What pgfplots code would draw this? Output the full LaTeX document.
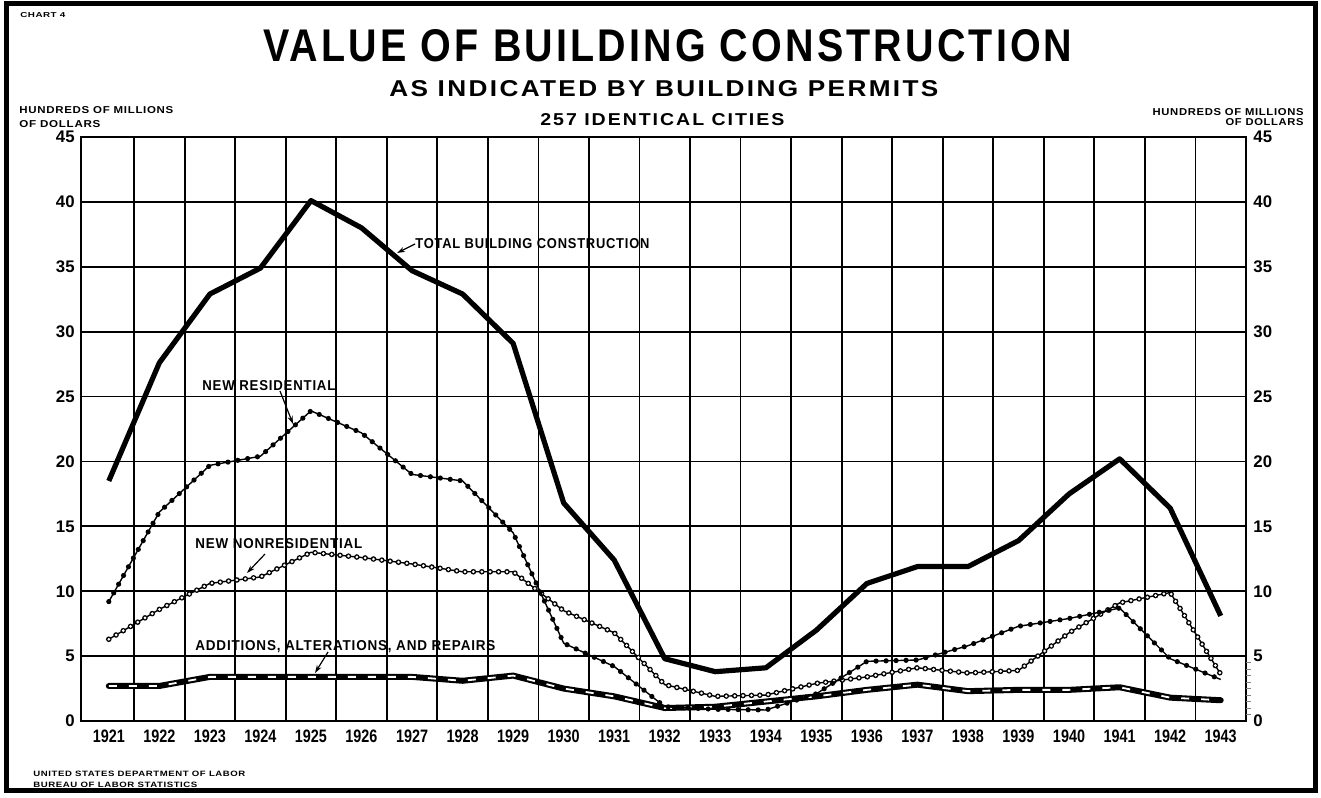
\documentclass[border=0pt]{standalone}
\usepackage{pgfplots}
\pgfplotsset{compat=1.18}
\usepackage{pgfplotstable}
\usepackage{fontspec}
\usepackage{graphicx}
\setmainfont{Liberation Sans}
\usetikzlibrary{arrows.meta}

\newcommand{\tx}[4]{\resizebox{#1pt}{#2pt}{\bfseries\addfontfeature{LetterSpace=#3}#4}}

\pgfplotstableread{
year total res nonres add
1921 18.5 9.2 6.3 2.7
1922 27.6 16.1 8.6 2.7
1923 32.9 19.7 10.6 3.4
1924 34.9 20.4 11.1 3.4
1925 40.1 23.9 13.0 3.4
1926 38.0 22.2 12.6 3.4
1927 34.7 19.0 12.1 3.4
1928 32.9 18.5 11.5 3.1
1929 29.1 14.5 11.5 3.5
1930 16.8 6.0 8.5 2.5
1931 12.4 4.2 6.8 1.9
1932 4.8 1.1 2.8 1.0
1933 3.8 0.9 1.9 1.1
1934 4.1 0.85 2.0 1.5
1935 7.0 2.1 2.9 1.9
1936 10.6 4.6 3.4 2.4
1937 11.9 4.7 4.1 2.8
1938 11.9 5.8 3.7 2.3
1939 13.9 7.3 3.9 2.4
1940 17.5 7.9 6.8 2.4
1941 20.2 8.7 9.1 2.6
1942 16.4 4.8 9.9 1.8
1943 8.1 3.2 3.6 1.6
}\data

\begin{document}
\begin{tikzpicture}
\begin{axis}[
  at={(40.5pt,-360.5pt)}, anchor=south west,
  scale only axis, width=582.5pt, height=292pt,
  xmin=1920.45, xmax=1943.5, ymin=0, ymax=45,
  xtick={1921,1922,...,1943},
  minor xtick={1921.5,1922.5,...,1942.5},
  ytick={0,5,...,45},
  /pgf/number format/assume math mode=true,
  xticklabel={\scalebox{0.8}[1]{\fontsize{9}{9}\selectfont\bfseries\pgfmathprintnumber[1000 sep={},fixed,precision=0]{\tick}}},
  xticklabel style={inner sep=0pt, yshift=-4.5pt},
  yticklabel style={font=\fontsize{8.4}{8.4}\selectfont\bfseries, inner sep=0pt, xshift=-3pt},
  xmajorgrids=false, xminorgrids=true, ymajorgrids=true,
  minor grid style={black, line width=0.9pt},
  major grid style={black, line width=0.9pt},
  major tick length=0pt, minor tick length=0pt,
  axis line style={line width=1.1pt},
]
\addplot[black, line width=3pt, line join=round, line cap=round] table[x=year,y=add]{\data};
\addplot[white, line width=0.9pt, dash pattern=on 4pt off 6pt] table[x=year,y=add]{\data};
% new nonresidential: open circles
\addplot[black, line width=0.7pt] table[x=year,y=nonres]{\data};
\addplot[black, line width=2.8pt, line cap=round, dash pattern=on 0pt off 4.2pt] table[x=year,y=nonres]{\data};
\addplot[white, line width=1.5pt, line cap=round, dash pattern=on 0pt off 4.2pt] table[x=year,y=nonres]{\data};
% new residential: filled dots
\addplot[black, line width=0.7pt] table[x=year,y=res]{\data};
\addplot[black, line width=2.6pt, line cap=round, dash pattern=on 0pt off 5pt] table[x=year,y=res]{\data};
% total
\addplot[black, line width=2.6pt, line join=round] table[x=year,y=total]{\data};
\end{axis}
\begin{axis}[
  at={(40.5pt,-360.5pt)}, anchor=south west,
  scale only axis, width=582.5pt, height=292pt,
  xmin=1920.45, xmax=1943.5, ymin=0, ymax=45,
  axis x line=none, axis y line*=right,
  axis line style={line width=1.1pt},
  ytick={0,5,...,45},
  /pgf/number format/assume math mode=true,
  yticklabel style={font=\fontsize{8.4}{8.4}\selectfont\bfseries, inner sep=0pt, xshift=3.5pt},
  major tick length=0pt,
  extra y ticks={0.5,1,...,4.5}, extra y tick labels={},
  extra y tick style={major tick length=2.5pt, tick align=outside, tick style={line width=0.5pt}},
]
\end{axis}
\begin{scope}[x=0.5pt,y=-0.5pt]
\path (0,0) rectangle (1321,797);
\draw[line width=2.5pt] (6,4) rectangle (1315,790);
\node[anchor=base west, inner sep=0] at (263,62) {\tx{404.5}{16}{8}{VALUE OF BUILDING CONSTRUCTION}};
\node[anchor=base west, inner sep=0] at (389,97) {\tx{274.5}{8}{9}{AS INDICATED BY BUILDING PERMITS}};
\node[anchor=base west, inner sep=0] at (540,125) {\tx{122}{6}{10}{257 IDENTICAL CITIES}};
\node[anchor=base west, inner sep=0] at (20,18) {\tx{22.5}{2.5}{5}{CHART 4}};
\node[anchor=base west, inner sep=0] at (19,113) {\tx{77}{3.5}{6}{HUNDREDS OF MILLIONS}};
\node[anchor=base west, inner sep=0] at (19,127) {\tx{40.5}{3.5}{6}{OF DOLLARS}};
\node[anchor=base east, inner sep=0] at (1304,115) {\tx{75.5}{3.5}{6}{HUNDREDS OF MILLIONS}};
\node[anchor=base east, inner sep=0] at (1304,126) {\tx{39}{3.5}{6}{OF DOLLARS}};
\node[anchor=base west, inner sep=0] at (33,776) {\tx{106}{2.7}{6}{UNITED STATES DEPARTMENT OF LABOR}};
\node[anchor=base west, inner sep=0] at (33,787) {\tx{82}{2.7}{6}{BUREAU OF LABOR STATISTICS}};
\node[anchor=base west, inner sep=0] at (415,248) {\tx{117}{5}{6}{TOTAL BUILDING CONSTRUCTION}};
\node[anchor=base west, inner sep=0] at (202,390) {\tx{66.5}{5}{6}{NEW RESIDENTIAL}};
\node[anchor=base west, inner sep=0] at (195,548) {\tx{83.5}{5}{6}{NEW NONRESIDENTIAL}};
\node[anchor=base west, inner sep=0] at (195,650) {\tx{150}{5}{6}{ADDITIONS, ALTERATIONS, AND REPAIRS}};
\draw[line width=0.6pt, -{Stealth[length=4pt,width=2.6pt]}] (415,244) -- (397,253);
\draw[line width=0.6pt, -{Stealth[length=4pt,width=2.6pt]}] (280,391) -- (293,424);
\draw[line width=0.6pt, -{Stealth[length=4pt,width=2.6pt]}] (265,554) -- (247,573);
\draw[line width=0.6pt, -{Stealth[length=4pt,width=2.6pt]}] (328,652) -- (315,673);
\end{scope}
\end{tikzpicture}
\end{document}
